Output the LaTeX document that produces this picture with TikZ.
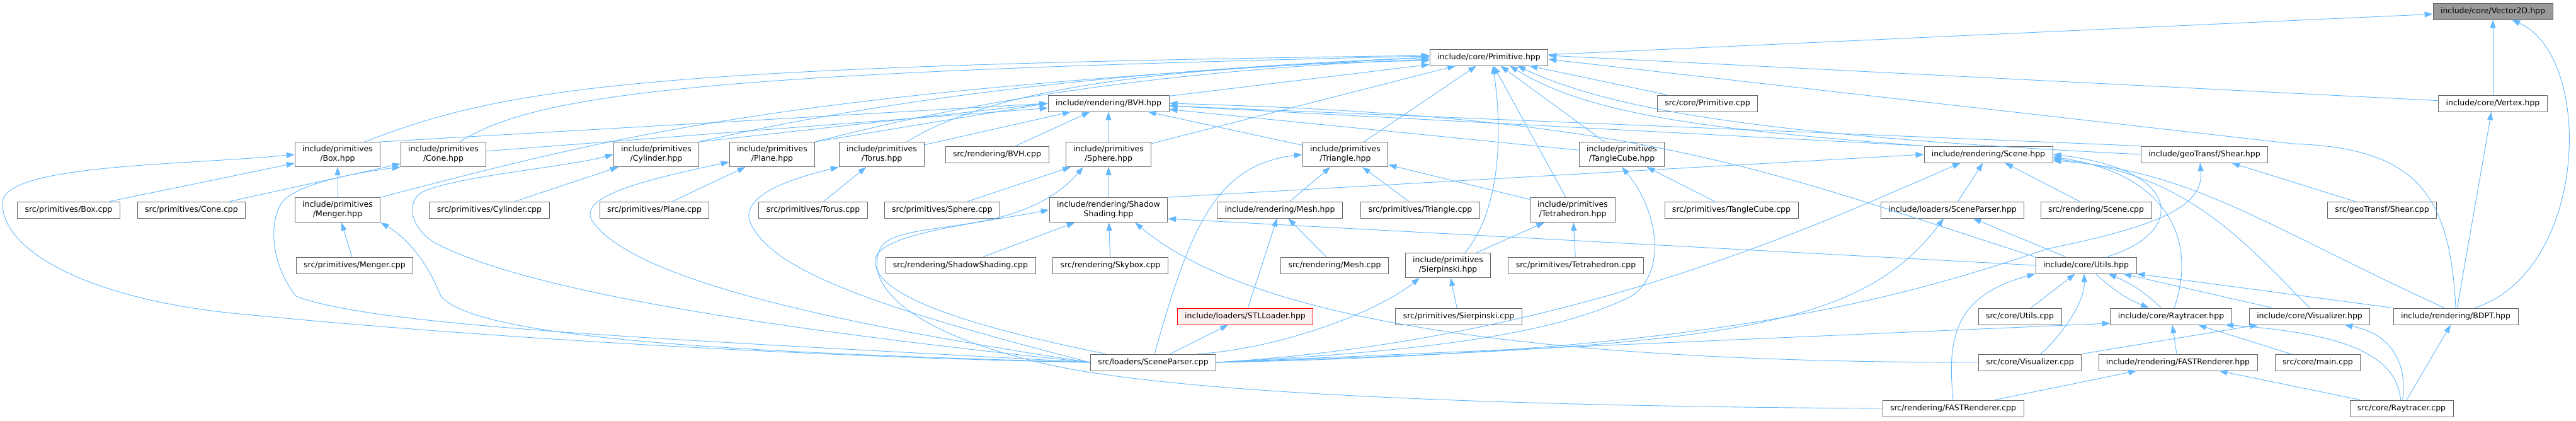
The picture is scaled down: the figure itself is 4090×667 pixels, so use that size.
\documentclass[tikz,border=0pt]{standalone}
\usepackage{fontspec}
\setmainfont{DejaVu Sans}
\usetikzlibrary{arrows.meta}
\definecolor{edgeblue}{HTML}{63B8FF}
\definecolor{boxgray}{HTML}{666666}
\definecolor{rootgray}{HTML}{999999}
\definecolor{missfill}{HTML}{FFF0F0}

\begin{document}
\begin{tikzpicture}[x=1pt, y=-1pt,
    file/.style={draw=boxgray, fill=white, line width=0.9pt, inner xsep=12pt, inner ysep=6pt,
      minimum height=26pt, align=center, font=\fontsize{12.5}{15}\selectfont},
    root/.style={fill=rootgray},
    broken/.style={draw=red, fill=missfill},
    dep/.style={draw=edgeblue, line width=0.9pt, -{Triangle[length=13pt,width=9pt]}}]
    \useasboundingbox (0,0) rectangle (4090,667);

    \node[file, root] (vecd) at (3958,18) {include/core/Vector2D.hpp};
    \node[file] (primh) at (2364,91) {include/core/Primitive.hpp};
    \node[file] (vert) at (3958,164) {include/core/Vertex.hpp};
    \node[file] (primc) at (2711,164) {src/core/Primitive.cpp};
    \node[file] (bvhh) at (1760,164) {include/rendering/BVH.hpp};
    \node[file] (boxh) at (536,245) {include/primitives\\/Box.hpp};
    \node[file] (coneh) at (704,245) {include/primitives\\/Cone.hpp};
    \node[file] (cylh) at (1042,245) {include/primitives\\/Cylinder.hpp};
    \node[file] (planeh) at (1226,245) {include/primitives\\/Plane.hpp};
    \node[file] (torush) at (1400,245) {include/primitives\\/Torus.hpp};
    \node[file] (bvhc) at (1583,245) {src/rendering/BVH.cpp};
    \node[file] (sphereh) at (1760,245) {include/primitives\\/Sphere.hpp};
    \node[file] (trih) at (2136,245) {include/primitives\\/Triangle.hpp};
    \node[file] (tangleh) at (2575,245) {include/primitives\\/TangleCube.hpp};
    \node[file] (sceneh) at (3157,245) {include/rendering/Scene.hpp};
    \node[file] (shearh) at (3500,245) {include/geoTransf/Shear.hpp};
    \node[file] (boxc) at (109,333) {src/primitives/Box.cpp};
    \node[file] (conec) at (304,333) {src/primitives/Cone.cpp};
    \node[file] (mengerh) at (536,333) {include/primitives\\/Menger.hpp};
    \node[file] (cylc) at (777,333) {src/primitives/Cylinder.cpp};
    \node[file] (planec) at (1039,333) {src/primitives/Plane.cpp};
    \node[file] (torusc) at (1291,333) {src/primitives/Torus.cpp};
    \node[file] (spherec) at (1496,333) {src/primitives/Sphere.cpp};
    \node[file] (shadowh) at (1760,333) {include/rendering/Shadow\\Shading.hpp};
    \node[file] (meshh) at (2032,333) {include/rendering/Mesh.hpp};
    \node[file] (tric) at (2255,333) {src/primitives/Triangle.cpp};
    \node[file] (tetrah) at (2497,333) {include/primitives\\/Tetrahedron.hpp};
    \node[file] (tanglec) at (2749,333) {src/primitives/TangleCube.cpp};
    \node[file] (sparserh) at (3100,333) {include/loaders/SceneParser.hpp};
    \node[file] (scenec) at (3328,333) {src/rendering/Scene.cpp};
    \node[file] (shearc) at (3782,333) {src/geoTransf/Shear.cpp};
    \node[file] (mengerc) at (563,421) {src/primitives/Menger.cpp};
    \node[file] (shadowc) at (1525,421) {src/rendering/ShadowShading.cpp};
    \node[file] (skyc) at (1763,421) {src/rendering/Skybox.cpp};
    \node[file] (meshc) at (2119,421) {src/rendering/Mesh.cpp};
    \node[file] (sierph) at (2299,421) {include/primitives\\/Sierpinski.hpp};
    \node[file] (tetrac) at (2502,421) {src/primitives/Tetrahedron.cpp};
    \node[file] (utilsh) at (3312,421) {include/core/Utils.hpp};
    \node[file, broken] (stlh) at (1977,502) {include/loaders/STLLoader.hpp};
    \node[file] (sierpc) at (2316,502) {src/primitives/Sierpinski.cpp};
    \node[file] (utilsc) at (3207,502) {src/core/Utils.cpp};
    \node[file] (rayh) at (3447,502) {include/core/Raytracer.hpp};
    \node[file] (vish) at (3667,502) {include/core/Visualizer.hpp};
    \node[file] (bdpth) at (3899,502) {include/rendering/BDPT.hpp};
    \node[file] (sparserc) at (1831,575) {src/loaders/SceneParser.cpp};
    \node[file] (visc) at (3223,575) {src/core/Visualizer.cpp};
    \node[file] (fasth) at (3458,575) {include/rendering/FASTRenderer.hpp};
    \node[file] (mainc) at (3680,575) {src/core/main.cpp};
    \node[file] (fastc) at (3101,648) {src/rendering/FASTRenderer.cpp};
    \node[file] (rayc) at (3813,648) {src/core/Raytracer.cpp};

    \draw[dep] (primh) -- (vecd);
    \draw[dep] (vert) -- (vecd);
    \draw[dep] ([xshift=30pt]bdpth.north) .. controls (4110,430) and (4120,90) .. ([xshift=30pt]vecd.south);
    \draw[dep] (bdpth) -- (vert);

    \draw[dep] (vert) -- ([yshift=3pt]primh.east);
    \draw[dep] (bdpth.north) .. controls (3890,300) and (3830,235) .. (3640,228) -- ([yshift=-3pt]primh.east);
    \draw[dep] (primc) -- (primh);
    \draw[dep] (bvhh) -- (primh);
    \draw[dep] (sphereh) -- (primh);
    \draw[dep] (trih) -- (primh);
    \draw[dep] (tetrah) -- (primh);
    \draw[dep] (tangleh) -- (primh);
    \draw[dep] ([xshift=27pt]sierph.north) .. controls (2385,330) and (2385,200) .. ([xshift=6pt]primh.south);
    \draw[dep] (sceneh.north west) .. controls (2700,205) and (2520,180) .. ([xshift=33pt]primh.south);
    \draw[dep] (shearh.west) .. controls (2800,215) and (2560,175) .. ([xshift=45pt]primh.south);
    \draw[dep] ([xshift=43pt]boxh.north) .. controls (800,140) and (1000,105) .. ([yshift=3pt]primh.west);
    \draw[dep] ([xshift=26pt]coneh.north) .. controls (850,150) and (1100,115) .. ([yshift=2pt]primh.west);
    \draw[dep] (mengerh.north east) .. controls (1000,210) and (1250,145) .. (primh.west);
    \draw[dep] (cylh.north east) .. controls (1350,170) and (1700,115) .. (primh.west);
    \draw[dep] (planeh.north east) .. controls (1450,185) and (1750,115) .. ([yshift=-3pt]primh.west);
    \draw[dep] ([xshift=40pt]torush.north) .. controls (1560,150) and (1800,105) .. ([yshift=-5pt]primh.west);

    \draw[dep] (boxh.north east) -- (bvhh.west);
    \draw[dep] (coneh) -- (bvhh);
    \draw[dep] (cylh.north east) -- (bvhh.west);
    \draw[dep] (planeh.north east) -- (bvhh.west);
    \draw[dep] (torush) -- (bvhh);
    \draw[dep] (bvhc) -- (bvhh);
    \draw[dep] (sphereh) -- (bvhh);
    \draw[dep] (trih) -- (bvhh);
    \draw[dep] (tangleh) -- (bvhh);
    \draw[dep] (sceneh.north west) -- ([yshift=-4pt]bvhh.east);
    \draw[dep] (shearh.north west) -- ([yshift=-4pt]bvhh.east);
    \draw[dep] (utilsh.north west) .. controls (2800,270) and (2620,185) .. (bvhh.east);

    \draw[dep] (boxc) -- (boxh);
    \draw[dep] (conec) -- (coneh);
    \draw[dep] (mengerh) -- (boxh);
    \draw[dep] (mengerc) -- (mengerh);
    \draw[dep] (cylc) -- (cylh);
    \draw[dep] (planec) -- (planeh);
    \draw[dep] (torusc) -- (torush);
    \draw[dep] (spherec) -- (sphereh);

    \draw[dep] (shadowh) -- (sphereh);
    \draw[dep] (shadowh.north east) -- (sceneh.west);
    \draw[dep] (shadowc) -- (shadowh);
    \draw[dep] (skyc) -- (shadowh);
    \draw[dep] (utilsh.west) -- ([yshift=-14pt]shadowh.east);
    \draw[dep] (visc.west) .. controls (2500,575) and (2000,520) .. ([xshift=42pt]shadowh.south);

    \draw[dep] (meshh) -- (trih);
    \draw[dep] (tric) -- (trih);
    \draw[dep] (tetrah) -- (trih);
    \draw[dep] (meshc) -- (meshh);
    \draw[dep] (stlh) -- (meshh);
    \draw[dep] (sierph) -- (tetrah);
    \draw[dep] (tetrac) -- (tetrah);
    \draw[dep] (sierpc) -- (sierph);
    \draw[dep] (tanglec) -- (tangleh);

    \draw[dep] (sparserh) -- (sceneh);
    \draw[dep] (scenec) -- (sceneh);
    \draw[dep] (shearc) -- (shearh);
    \draw[dep] ([xshift=33pt]utilsh.north) .. controls (3470,370) and (3470,270) .. (sceneh.east);
    \draw[dep] ([xshift=5pt]rayh.north) .. controls (3490,380) and (3440,275) .. ([yshift=-4pt]sceneh.east);
    \draw[dep] (vish.north) .. controls (3560,380) and (3470,275) .. ([yshift=-7pt]sceneh.east);
    \draw[dep] ([xshift=-18pt]bdpth.north) .. controls (3600,360) and (3480,270) .. ([yshift=-10pt]sceneh.east);

    \draw[dep] (utilsh) -- (sparserh);
    \draw[dep] (utilsc) -- (utilsh);
    \draw[dep] (vish) -- (utilsh);
    \draw[dep] (bdpth.north west) -- (utilsh.south east);
    \draw[dep] (rayh) to[bend right=10] (utilsh);
    \draw[dep] (utilsh) to[bend right=10] (rayh);
    \draw[dep] (fastc.north) .. controls (3092,540) and (3100,470) .. (utilsh.south west);
    \draw[dep] ([xshift=17pt]visc.north) .. controls (3275,530) and (3310,480) .. ([xshift=-3pt]utilsh.south);

    \draw[dep] (fasth) -- (rayh);
    \draw[dep] (mainc) -- (rayh);
    \draw[dep] (rayc) -- (fasth);
    \draw[dep] (fastc) -- (fasth);
    \draw[dep] (visc) -- (vish);
    \draw[dep] (rayc) -- (bdpth);
    \draw[dep] (rayc) .. controls (3805,570) and (3740,530) .. ([xshift=86pt]rayh.south);
    \draw[dep] (rayc) .. controls (3822,580) and (3800,530) .. ([xshift=55pt]vish.south);
    \draw[dep] (fastc.west) .. controls (2400,645) and (1850,625) .. (1650,575)
        .. controls (1420,520) and (1370,440) .. (1400,390)
        .. controls (1440,345) and (1620,380) .. ([xshift=-40pt]sphereh.south);

    \draw[dep] (sparserc.west) .. controls (1200,565) and (650,525) .. (402,500)
        .. controls (150,480) and (0,400) .. (4,320)
        .. controls (10,260) and (300,262) .. (boxh.west);
    \draw[dep] (sparserc.west) .. controls (1100,540) and (600,520) .. (470,470)
        .. controls (430,420) and (425,350) .. (450,318)
        .. controls (480,290) and (560,275) .. (coneh.south west);
    \draw[dep] (sparserc.west) .. controls (1200,560) and (760,540) .. (700,470)
        .. controls (680,420) and (650,380) .. (mengerh.south east);
    \draw[dep] (sparserc.west) .. controls (1300,530) and (850,470) .. (690,385)
        .. controls (650,360) and (645,320) .. (670,305)
        .. controls (720,280) and (900,265) .. (cylh.west);
    \draw[dep] (sparserc.west) .. controls (1300,510) and (1000,440) .. (940,350)
        .. controls (920,315) and (1000,290) .. ([yshift=-12pt]planeh.west);
    \draw[dep] (sparserc.west) .. controls (1400,490) and (1220,430) .. (1190,350)
        .. controls (1180,310) and (1250,285) .. (torush.south west);
    \draw[dep] ([xshift=-75pt]sparserc.north) .. controls (1550,520) and (1380,470) .. (1390,410)
        .. controls (1400,370) and (1550,355) .. (shadowh.west);
    \draw[dep] ([xshift=2pt]sparserc.north) .. controls (1890,360) and (1930,262) .. (trih.west);
    \draw[dep] (sparserc) -- (stlh);
    \draw[dep] ([xshift=70pt]sparserc.north) .. controls (2020,555) and (2180,500) .. ([xshift=-45pt]sierph.south);
    \draw[dep] (sparserc.east) .. controls (2200,560) and (2450,540) .. (2590,470)
        .. controls (2650,430) and (2630,330) .. (tangleh.south);
    \draw[dep] (sparserc.east) .. controls (2500,540) and (2900,350) .. ([xshift=-44pt]sceneh.south);
    \draw[dep] (sparserc.east) .. controls (2700,550) and (2950,530) .. ([xshift=-14pt]sparserh.south);
    \draw[dep] (sparserc.east) .. controls (2700,560) and (3000,480) .. (3250,395)
        .. controls (3420,360) and (3500,330) .. ([xshift=-7pt]shearh.south);
    \draw[dep] (sparserc.east) -- ([yshift=-11pt]rayh.west);
\end{tikzpicture}
\end{document}
